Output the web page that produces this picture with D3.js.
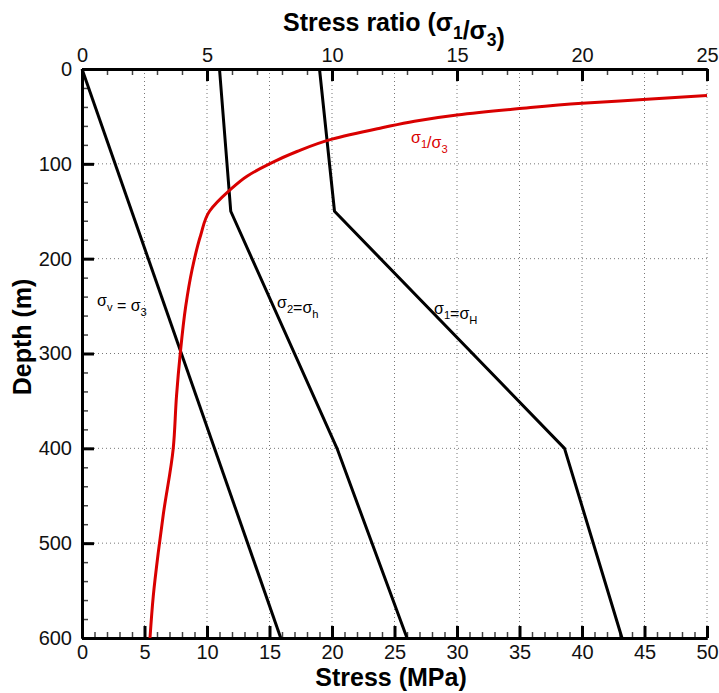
<!DOCTYPE html>
<html>
<head>
<meta charset="utf-8">
<script src="https://cdnjs.cloudflare.com/ajax/libs/d3/7.8.5/d3.min.js"></script>
<style>
  body { margin: 0; background: #fff; }
  svg text { font-family: Arial, "Liberation Sans", sans-serif; }
</style>
</head>
<body>
<div id="chart"></div>
<script>
var width = 719;
var height = 693;

// stress profiles: [stress MPa, depth m]
var sigmaV = [[0, 0], [15.9, 600]];
var sigma2 = [[11.0, 0], [11.9, 150], [20.4, 400], [26.0, 600]];
var sigma1 = [[19.0, 0], [20.2, 150], [38.6, 400], [43.2, 600]];

// stress ratio sigma1/sigma3: [ratio, depth m]
var ratio = [
  [25, 28], [22.6, 32], [20, 36], [17.4, 42], [15, 48.5], [13.3, 55],
  [12, 62], [10, 74], [8.6, 87], [7.5, 100], [6.6, 113], [5.9, 128],
  [5.1, 150], [4.75, 175], [4.4, 212], [4.15, 250], [3.93, 300],
  [3.78, 345], [3.65, 400], [3.25, 470], [3.05, 510], [2.85, 556], [2.72, 600]
];

var stressTicks = [0, 5, 10, 15, 20, 25, 30, 35, 40, 45, 50];
var ratioTicks = [0, 5, 10, 15, 20, 25];
var depthTicks = [0, 100, 200, 300, 400, 500, 600];

var x = d3.scaleLinear().domain([0, 50]).range([82, 707]);
var xr = d3.scaleLinear().domain([0, 25]).range([82, 707]);
var y = d3.scaleLinear().domain([0, 600]).range([69, 638]);

var svg = d3.select("#chart").append("svg")
  .attr("width", width)
  .attr("height", height);

// dotted grid
var grid = svg.append("g");
grid.selectAll(".gx")
  .data(stressTicks.slice(1))
  .enter().append("line")
  .attr("x1", function(d) { return x(d); })
  .attr("x2", function(d) { return x(d); })
  .attr("y1", y(0)).attr("y2", y(600))
  .attr("stroke", "#777").attr("stroke-width", 1).attr("stroke-dasharray", "1,3");
grid.selectAll(".gy")
  .data(depthTicks.slice(1, -1))
  .enter().append("line")
  .attr("y1", function(d) { return y(d); })
  .attr("y2", function(d) { return y(d); })
  .attr("x1", x(0)).attr("x2", x(50))
  .attr("stroke", "#777").attr("stroke-width", 1).attr("stroke-dasharray", "1,3");

// axes: minor then major
function styleAxis(g, w) {
  g.select(".domain").attr("stroke", "#000").attr("stroke-width", 3);
  g.selectAll(".tick line").attr("stroke", "#000").attr("stroke-width", w);
  g.selectAll(".tick text").attr("font-size", 20).attr("fill", "#111")
    .style("font-family", "Arial, 'Liberation Sans', sans-serif");
}

// bottom
svg.append("g").attr("transform", "translate(0," + y(600) + ")")
  .call(d3.axisBottom(x).tickValues(d3.range(0, 51, 1)).tickSize(-6).tickSizeOuter(0).tickFormat(""))
  .call(function(g) { styleAxis(g, 1.5); g.selectAll(".tick line").attr("stroke", "#444"); });
svg.append("g").attr("transform", "translate(0," + y(600) + ")")
  .call(d3.axisBottom(x).tickValues(stressTicks).tickSize(-12).tickSizeOuter(0).tickPadding(6))
  .call(function(g) { styleAxis(g, 3); g.selectAll(".tick text").attr("dy", "0.75em"); });

// top
svg.append("g").attr("transform", "translate(0," + y(0) + ")")
  .call(d3.axisTop(xr).tickValues(d3.range(0, 26, 1)).tickSize(-6).tickSizeOuter(0).tickFormat(""))
  .call(function(g) { styleAxis(g, 1.5); g.selectAll(".tick line").attr("stroke", "#444"); });
svg.append("g").attr("transform", "translate(0," + y(0) + ")")
  .call(d3.axisTop(xr).tickValues(ratioTicks).tickSize(-12).tickSizeOuter(0).tickPadding(7))
  .call(function(g) { styleAxis(g, 3); });

// left
svg.append("g").attr("transform", "translate(" + x(0) + ",0)")
  .call(d3.axisLeft(y).tickValues(d3.range(0, 601, 20)).tickSize(-6).tickSizeOuter(0).tickFormat(""))
  .call(function(g) { styleAxis(g, 1.5); g.selectAll(".tick line").attr("stroke", "#444"); });
svg.append("g").attr("transform", "translate(" + x(0) + ",0)")
  .call(d3.axisLeft(y).tickValues(depthTicks).tickSize(-12).tickSizeOuter(0).tickPadding(10))
  .call(function(g) { styleAxis(g, 3); });

// lines
var stressLine = d3.line()
  .x(function(d) { return x(d[0]); })
  .y(function(d) { return y(d[1]); });
var ratioLine = d3.line()
  .x(function(d) { return xr(d[0]); })
  .y(function(d) { return y(d[1]); })
  .curve(d3.curveMonotoneY);

[sigmaV, sigma2, sigma1].forEach(function(s) {
  svg.append("path").datum(s)
    .attr("d", stressLine)
    .attr("fill", "none").attr("stroke", "#000").attr("stroke-width", 3)
    .attr("stroke-linejoin", "round");
});
svg.append("path").datum(ratio)
  .attr("d", ratioLine)
  .attr("fill", "none").attr("stroke", "#d90000").attr("stroke-width", 3);

// labels with subscripts
function subLabel(px, py, parts, size, color, weight) {
  var t = svg.append("text").attr("x", px).attr("y", py)
    .attr("font-size", size).attr("fill", color || "#000")
    .attr("font-weight", weight || "normal");
  parts.forEach(function(p) {
    if (p.sub) {
      t.append("tspan").attr("dy", size * 0.3).attr("font-size", size * 0.7).text(p.sub);
      t.append("tspan").attr("dy", -size * 0.3).text("");
    } else {
      t.append("tspan").text(p.t);
    }
  });
  return t;
}

subLabel(97, 306, [{t: "σ"}, {sub: "v"}, {t: " = σ"}, {sub: "3"}], 16);
subLabel(277, 308, [{t: "σ"}, {sub: "2"}, {t: "=σ"}, {sub: "h"}], 16);
subLabel(434, 314, [{t: "σ"}, {sub: "1"}, {t: "=σ"}, {sub: "H"}], 16);
subLabel(411, 143, [{t: "σ"}, {sub: "1"}, {t: "/σ"}, {sub: "3"}], 16, "#d90000");

// axis titles
subLabel(283, 31, [{t: "Stress ratio (σ"}, {sub: "1"}, {t: "/σ"}, {sub: "3"}, {t: ")"}], 25, "#000", "bold");
svg.append("text").attr("x", 391).attr("y", 686)
  .attr("text-anchor", "middle").attr("font-size", 25).attr("font-weight", "bold")
  .text("Stress (MPa)");
svg.append("text")
  .attr("transform", "translate(31,337) rotate(-90)")
  .attr("text-anchor", "middle").attr("font-size", 25).attr("font-weight", "bold")
  .text("Depth (m)");
</script>
</body>
</html>
